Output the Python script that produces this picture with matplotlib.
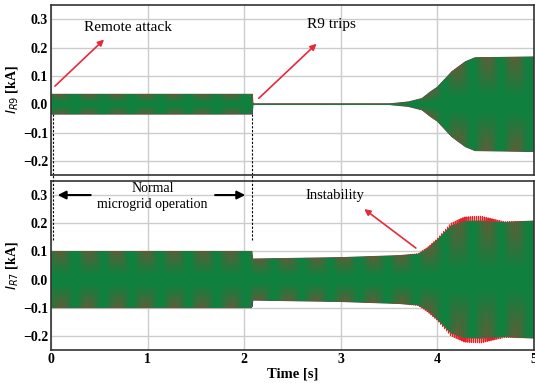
import numpy as np
import matplotlib
matplotlib.use('Agg')
import matplotlib.pyplot as plt
from matplotlib.lines import Line2D

plt.rcParams['font.family'] = ['Liberation Serif', 'DejaVu Serif']
plt.rcParams['mathtext.fontset'] = 'dejavusans'

# envelope of the R9 current (kA)
r9_t = [0, 2.085, 2.09, 3.5, 3.7, 3.84, 3.93, 4.0, 4.15, 4.29, 4.39, 5.0]
r9_amp = [0.035, 0.035, 0.001, 0.001, 0.008, 0.02, 0.044, 0.06, 0.115, 0.15, 0.164, 0.167]

# envelope of the R7 current (kA)
r7_t = [0, 2.08, 2.09, 3.0, 3.6, 3.8, 3.9, 4.0, 4.14, 4.28, 4.45, 4.7, 5.0]
r7_amp = [0.1, 0.1, 0.073, 0.078, 0.085, 0.09, 0.11, 0.14, 0.19, 0.207, 0.208, 0.203, 0.208]
r7_amp_red = [0.1, 0.1, 0.073, 0.078, 0.085, 0.092, 0.115, 0.145, 0.2, 0.222, 0.225, 0.205, 0.208]

# drawing order: blue, red, green (green on top)
phase_colors = ['#2b3f9e', '#e8202a', '#10803f']
phase_shift = [-2 * np.pi / 3, 0, 2 * np.pi / 3]
freq = 50.0

t = np.arange(0, 5.0, 1 / 2000.0)

fig = plt.figure(figsize=(5.35, 3.83), dpi=100)
ax1 = fig.add_axes([0.0953, 0.543, 0.9028, 0.4439])
ax2 = fig.add_axes([0.0953, 0.0862, 0.9028, 0.4413])
ax2.set_zorder(3)
ax2.set_facecolor('white')

env1 = np.interp(t, r9_t, r9_amp)
for c, ph in zip(phase_colors, phase_shift):
    ax1.plot(t, env1 * np.sin(2 * np.pi * freq * t + ph), color=c, lw=0.8)

env2 = np.interp(t, r7_t, r7_amp)
env2r = np.interp(t, r7_t, r7_amp_red)
for c, ph in zip(phase_colors, phase_shift):
    e = env2r if c == '#e8202a' else env2
    ax2.plot(t, e * np.sin(2 * np.pi * freq * t + ph), color=c, lw=0.8)

for ax in (ax1, ax2):
    ax.set_xlim(0, 5)
    ax.set_ylim(-0.25, 0.35)
    ax.set_xticks([0, 1, 2, 3, 4, 5])
    ax.set_yticks([-0.2, -0.1, 0.0, 0.1, 0.2, 0.3])
    ax.set_yticklabels(['\u22120.2', '\u22120.1', '0.0', '0.1', '0.2', '0.3'])
    ax.grid(True, color='#cccccc', lw=1.0)
    ax.set_axisbelow(True)
    ax.tick_params(length=0, pad=2, labelsize=10)
    for lab in ax.get_xticklabels() + ax.get_yticklabels():
        lab.set_fontweight('bold')
    for s in ax.spines.values():
        s.set_color('#333333')
        s.set_linewidth(1.2)
ax1.tick_params(axis='x', labelbottom=False)

ax1.set_ylabel('$I_{R9}$ [kA]', fontsize=10, fontweight='bold', labelpad=2)
ax2.set_ylabel('$I_{R7}$ [kA]', fontsize=10, fontweight='bold', labelpad=2)
ax2.set_xlabel('Time [s]', fontsize=10.5, fontweight='bold', labelpad=1)

# grid lines crossing the gap between the panels
for xv in [1, 2, 3, 4]:
    xf = 0.0953 + 0.9028 * xv / 5
    fig.add_artist(Line2D([xf, xf], [0.528, 0.543], color='#cccccc', lw=1.0, zorder=0))

red = '#e8283c'
ax1.annotate('', xy=(0.57, 0.235), xytext=(0.02, 0.057),
             arrowprops=dict(arrowstyle='-|>', color=red, lw=1.2, mutation_scale=9))
ax1.text(0.8, 0.27, 'Remote attack', fontsize=11, ha='center', va='center')
ax1.annotate('', xy=(2.77, 0.22), xytext=(2.13, 0.014),
             arrowprops=dict(arrowstyle='-|>', color=red, lw=1.2, mutation_scale=9))
ax1.text(2.9, 0.28, 'R9 trips', fontsize=11, ha='center', va='center')

ax2.annotate('', xy=(3.22, 0.256), xytext=(3.8, 0.106),
             arrowprops=dict(arrowstyle='-|>', color=red, lw=1.2, mutation_scale=9))
ax2.text(2.94, 0.30, 'Instability', fontsize=10.5, ha='center', va='center')

ax2.text(1.05, 0.325, 'Normal', fontsize=10, ha='center', va='center')
ax2.text(1.05, 0.265, 'microgrid operation', fontsize=10, ha='center', va='center')
ax2.annotate('', xy=(0.04, 0.3), xytext=(0.44, 0.3),
             arrowprops=dict(arrowstyle='-|>', color='black', lw=1.5, mutation_scale=12))
ax2.annotate('', xy=(2.04, 0.3), xytext=(1.67, 0.3),
             arrowprops=dict(arrowstyle='-|>', color='black', lw=1.5, mutation_scale=12))

# dashed markers for attack and trip instants
for xv in [0.025, 2.085]:
    ax1.plot([xv, xv], [-0.035, -0.25], ls=(0, (2, 1.5)), color='black', lw=0.8, clip_on=False)
    ax2.plot([xv, xv], [0.14, 0.372], ls=(0, (2, 1.5)), color='black', lw=0.8, clip_on=False)

fig.savefig('out.png', dpi=100)
